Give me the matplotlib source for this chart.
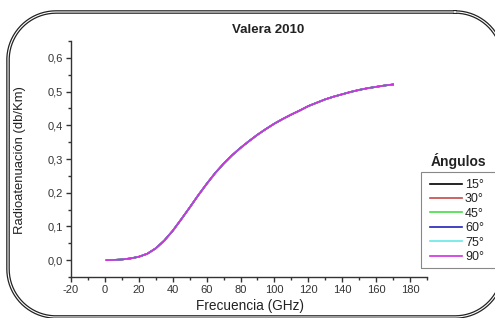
import matplotlib
matplotlib.use("Agg")
import numpy as np
import matplotlib.pyplot as plt
from matplotlib.lines import Line2D
from matplotlib.patches import Rectangle
from matplotlib.transforms import IdentityTransform
from matplotlib.ticker import MultipleLocator, FuncFormatter

plt.rcParams['font.family'] = ['Liberation Sans', 'DejaVu Sans']
plt.rcParams['axes.unicode_minus'] = False

freq = [1, 5, 10, 15, 20, 25, 30, 35, 40, 45, 50, 55, 60, 65, 70, 75, 80, 85,
        90, 95, 100, 105, 110, 115, 120, 125, 130, 135, 140, 145, 150, 155,
        160, 165, 170]
atten = [0.0, 0.0005, 0.002, 0.005, 0.010, 0.019, 0.035, 0.058, 0.087, 0.121,
         0.156, 0.192, 0.226, 0.258, 0.286, 0.311, 0.333, 0.353, 0.372, 0.389,
         0.405, 0.419, 0.432, 0.444, 0.457, 0.467, 0.477, 0.485, 0.492, 0.499,
         0.505, 0.510, 0.514, 0.518, 0.521]
angles = ['15°', '30°', '45°', '60°', '75°', '90°']
colors = ['#000000', '#c84848', '#44dd44', '#2222bb', '#66e8e8', '#d030dd']

W, H = 495, 318
fig = plt.figure(figsize=(W / 100, H / 100), dpi=100)
fig.patch.set_facecolor('white')


def rounded_rect(left, top, right, bottom, r, n=40):
    # pixel coords measured from top-left; returns display coords (origin bottom-left)
    pts = []
    corners = [((right - r, top + r), -np.pi / 2, 0),
               ((right - r, bottom - r), 0, np.pi / 2),
               ((left + r, bottom - r), np.pi / 2, np.pi),
               ((left + r, top + r), np.pi, 1.5 * np.pi)]
    for (cx, cy), a0, a1 in corners:
        t = np.linspace(a0, a1, n)
        pts.extend(zip(cx + r * np.cos(t), cy + r * np.sin(t)))
    pts.append(pts[0])
    xs = np.array([p[0] for p in pts])
    ys = H - np.array([p[1] for p in pts])
    return xs, ys


fx, fy = rounded_rect(8, 12, 503, 317, 48)
fig.add_artist(Line2D(fx, fy, transform=IdentityTransform(), color='#222222',
                      linewidth=2.6, solid_joinstyle='round'))
fig.add_artist(Line2D(fx, fy, transform=IdentityTransform(), color='white',
                      linewidth=0.8, solid_joinstyle='round'))

ax = fig.add_axes([71 / W, 1 - 277 / H, (427 - 71) / W, (277 - 41) / H])
ax.set_facecolor('none')
lines = []
for lab, c in zip(angles, colors):
    ln, = ax.plot(freq, atten, color=c, linewidth=1.2, label=lab)
    lines.append(ln)

ax.set_xlim(-20, 190)
ax.set_ylim(-0.05, 0.65)
ax.xaxis.set_minor_locator(MultipleLocator(10))
ax.yaxis.set_minor_locator(MultipleLocator(0.05))
ax.set_yticks([0, 0.1, 0.2, 0.3, 0.4, 0.5, 0.6])
ax.set_xticks(list(range(-20, 181, 20)))
ax.yaxis.set_major_formatter(FuncFormatter(lambda v, p: f"{v:.1f}".replace('.', ',')))
for s in ['top', 'right']:
    ax.spines[s].set_visible(False)
for s in ['left', 'bottom']:
    ax.spines[s].set_color('#333333')
    ax.spines[s].set_linewidth(1.0)
ax.tick_params(which='major', direction='out', length=3.5, width=1.0,
               color='#333333', labelsize=8, labelcolor='#333333', pad=2)
ax.tick_params(which='minor', direction='out', length=2, width=1.0, color='#333333')

fig.text(268 / W, 1 - 30 / H, 'Valera 2010', ha='center', va='center',
         fontsize=9.5, fontweight='bold', color='#222222')
fig.text(20 / W, 1 - 160 / H, 'Radioatenuación (db/Km)', rotation=90,
         ha='center', va='center', fontsize=9.4, color='#222222')
fig.text(250 / W, 1 - 306 / H, 'Frecuencia (GHz)', ha='center', va='center',
         fontsize=9.8, color='#222222')
fig.text(458 / W, 1 - 161 / H, 'Ángulos', ha='center', va='center',
         fontsize=10, fontweight='bold', color='#222222')

fig.add_artist(Rectangle((421, H - 268), 90, 96, transform=IdentityTransform(),
                         fill=False, edgecolor='#888888', linewidth=0.8))

leg = fig.legend(handles=lines, labels=angles, loc='upper left',
                 bbox_to_anchor=(430 / W, 1 - 179 / H), fontsize=9,
                 frameon=False, handlelength=2.55, handletextpad=0.25,
                 labelspacing=0.19, borderpad=0.0, borderaxespad=0)
for t in leg.get_texts():
    t.set_color('#222222')

fig.savefig('out.png', dpi=100)
